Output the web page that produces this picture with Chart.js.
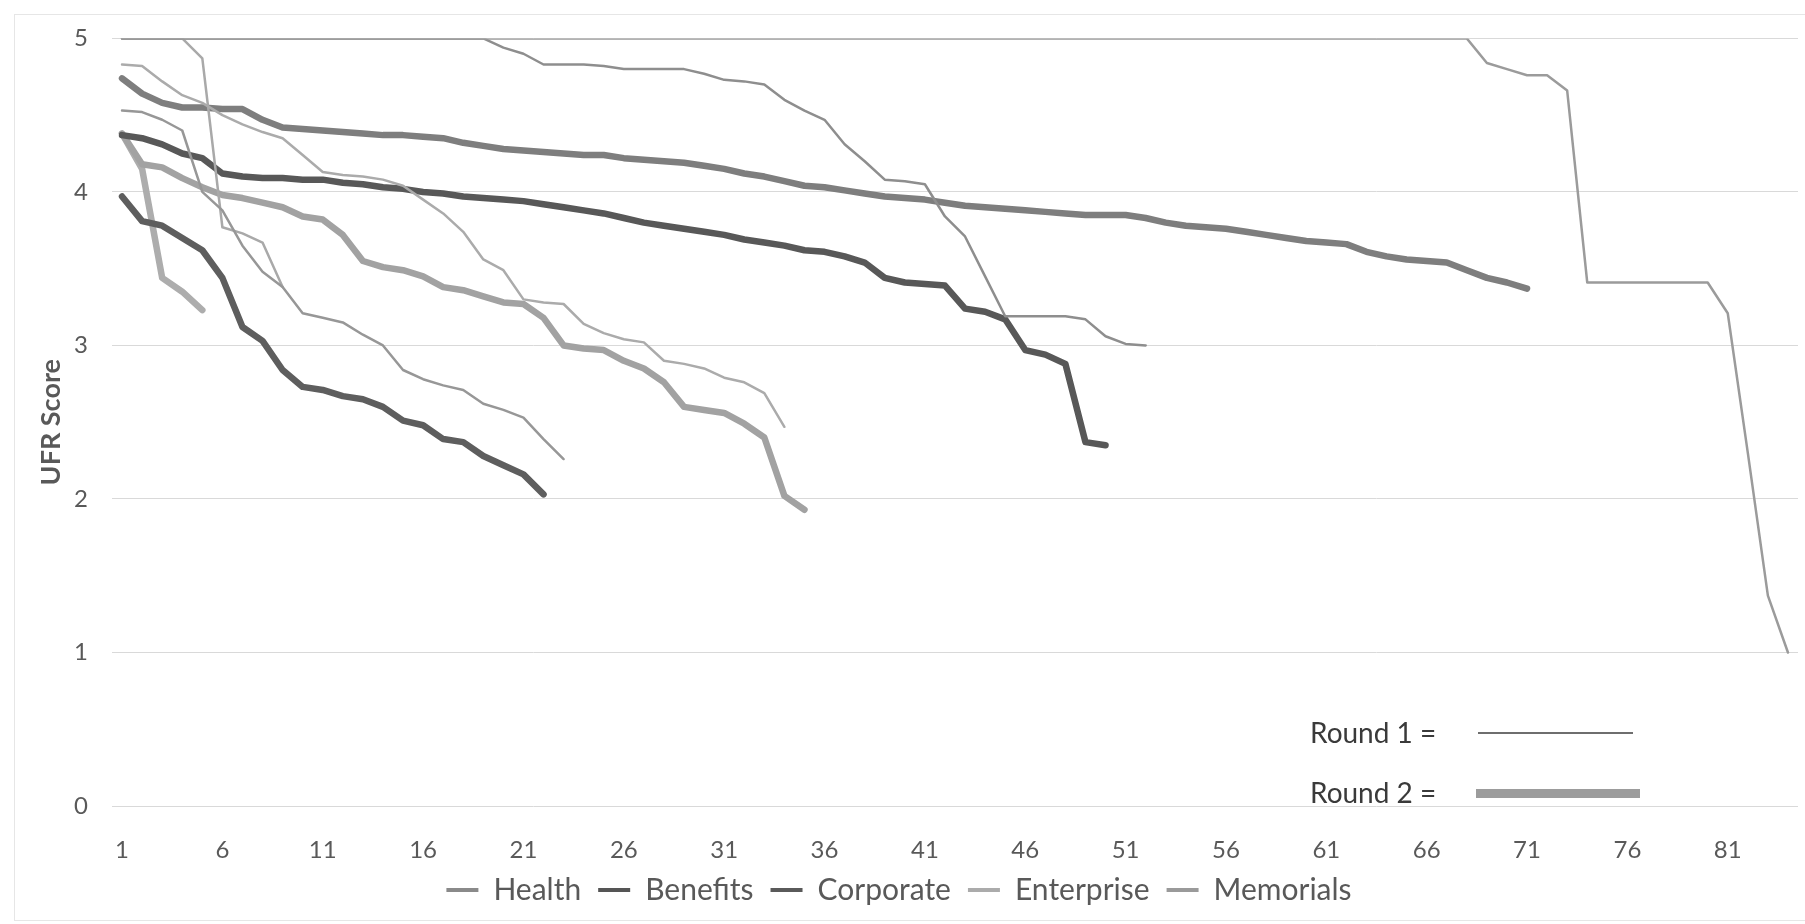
<!DOCTYPE html>
<html>
<head>
  <title>UFR Score by Round</title>
  <script src="https://cdn.jsdelivr.net/npm/chart.js@4.4.0/dist/chart.umd.min.js"></script>
  <style>
    body {
      margin: 0;
      background: #fff;
      font-family: Lato, sans-serif;
    }
    .wrap {
      position: relative;
      width: 1805px;
      height: 924px;
      overflow: hidden;
    }
    canvas {
      display: block;
    }
    .frame {
      position: absolute;
      left: 14px;
      top: 14px;
      width: 1810px;
      height: 907px;
      border: 1px solid #e6e6e6;
      box-sizing: border-box;
      pointer-events: none;
    }
    .note {
      position: absolute;
      font-size: 28px;
      line-height: 1;
      color: #3a3a3a;
      white-space: nowrap;
    }
    .sample {
      position: absolute;
    }
  </style>
</head>
<body>
  <div class="wrap">
    <canvas id="chart" width="1805" height="924"></canvas>
    <div class="frame"></div>
    <div class="note" style="left:1310px; top:718px;">Round 1 =</div>
    <div class="sample" style="left:1478px; top:732px; width:155px; height:2px; background:#6e6e6e;"></div>
    <div class="note" style="left:1310px; top:778px;">Round 2 =</div>
    <div class="sample" style="left:1476px; top:789px; width:164px; height:9px; background:#9c9c9c;"></div>
  </div>

  <script>
    // x categories: respondent rank 1..84, labelled every 5th
    const categories = Array.from({ length: 84 }, (_, i) => String(i + 1));
    const tickLabels = ['1', '6', '11', '16', '21', '26', '31', '36', '41', '46', '51', '56', '61', '66', '71', '76', '81'];
    const seriesNames = ['Health', 'Benefits', 'Corporate', 'Enterprise', 'Memorials'];

    // Round 1 (thin lines)
    const health1 = [
      5, 5, 5, 5, 5, 5, 5, 5, 5, 5,
      5, 5, 5, 5, 5, 5, 5, 5, 5, 5,
      5, 5, 5, 5, 5, 5, 5, 5, 5, 5,
      5, 5, 5, 5, 5, 5, 5, 5, 5, 5,
      5, 5, 5, 5, 5, 5, 5, 5, 5, 5,
      5, 5, 5, 5, 5, 5, 5, 5, 5, 5,
      5, 5, 5, 5, 5, 5, 5, 5, 4.84, 4.8,
      4.76, 4.76, 4.66, 3.41, 3.41, 3.41, 3.41, 3.41, 3.41, 3.41,
      3.21, 2.3, 1.37, 1.0
    ];
    const benefits1 = [
      5, 5, 5, 5, 5, 5, 5, 5, 5, 5,
      5, 5, 5, 5, 5, 5, 5, 5, 5, 4.94,
      4.9, 4.83, 4.83, 4.83, 4.82, 4.8, 4.8, 4.8, 4.8, 4.77,
      4.73, 4.72, 4.7, 4.6, 4.53, 4.47, 4.31, 4.2, 4.08, 4.07,
      4.05, 3.84, 3.71, 3.45, 3.19, 3.19, 3.19, 3.19, 3.17, 3.06,
      3.01, 3.0
    ];
    const corporate1 = [
      4.53, 4.52, 4.47, 4.4, 4.0, 3.88, 3.65, 3.48, 3.38, 3.21,
      3.18, 3.15, 3.07, 3.0, 2.84, 2.78, 2.74, 2.71, 2.62, 2.58,
      2.53, 2.39, 2.26
    ];
    const enterprise1 = [
      4.83, 4.82, 4.72, 4.63, 4.58, 4.5, 4.44, 4.39, 4.35, 4.24,
      4.13, 4.11, 4.1, 4.08, 4.04, 3.95, 3.86, 3.74, 3.56, 3.49,
      3.3, 3.28, 3.27, 3.14, 3.08, 3.04, 3.02, 2.9, 2.88, 2.85,
      2.79, 2.76, 2.69, 2.47
    ];
    const memorials1 = [5, 5, 5, 5, 4.87, 3.77, 3.73, 3.67, 3.38];

    // Round 2 (thick lines)
    const health2 = [
      4.74, 4.64, 4.58, 4.55, 4.55, 4.54, 4.54, 4.47, 4.42, 4.41,
      4.4, 4.39, 4.38, 4.37, 4.37, 4.36, 4.35, 4.32, 4.3, 4.28,
      4.27, 4.26, 4.25, 4.24, 4.24, 4.22, 4.21, 4.2, 4.19, 4.17,
      4.15, 4.12, 4.1, 4.07, 4.04, 4.03, 4.01, 3.99, 3.97, 3.96,
      3.95, 3.93, 3.91, 3.9, 3.89, 3.88, 3.87, 3.86, 3.85, 3.85,
      3.85, 3.83, 3.8, 3.78, 3.77, 3.76, 3.74, 3.72, 3.7, 3.68,
      3.67, 3.66, 3.61, 3.58, 3.56, 3.55, 3.54, 3.49, 3.44, 3.41,
      3.37
    ];
    const benefits2 = [
      4.37, 4.35, 4.31, 4.25, 4.22, 4.12, 4.1, 4.09, 4.09, 4.08,
      4.08, 4.06, 4.05, 4.03, 4.02, 4.0, 3.99, 3.97, 3.96, 3.95,
      3.94, 3.92, 3.9, 3.88, 3.86, 3.83, 3.8, 3.78, 3.76, 3.74,
      3.72, 3.69, 3.67, 3.65, 3.62, 3.61, 3.58, 3.54, 3.44, 3.41,
      3.4, 3.39, 3.24, 3.22, 3.17, 2.97, 2.94, 2.88, 2.37, 2.35
    ];
    const corporate2 = [
      3.97, 3.81, 3.78, 3.7, 3.62, 3.44, 3.12, 3.03, 2.84, 2.73,
      2.71, 2.67, 2.65, 2.6, 2.51, 2.48, 2.39, 2.37, 2.28, 2.22,
      2.16, 2.03
    ];
    const enterprise2 = [
      4.38, 4.18, 4.16, 4.09, 4.03, 3.98, 3.96, 3.93, 3.9, 3.84,
      3.82, 3.72, 3.55, 3.51, 3.49, 3.45, 3.38, 3.36, 3.32, 3.28,
      3.27, 3.18, 3.0, 2.98, 2.97, 2.9, 2.85, 2.76, 2.6, 2.58,
      2.56, 2.49, 2.4, 2.02, 1.93
    ];
    const memorials2 = [4.38, 4.15, 3.44, 3.35, 3.23];

    const round1 = [health1, benefits1, corporate1, enterprise1, memorials1];
    const round2 = [health2, benefits2, corporate2, enterprise2, memorials2];

    const round1Colors = ['#9b9b9b', '#8e8e8e', '#979797', '#ababab', '#a9a9a9'];
    const round2Colors = ['#7e7e7e', '#585858', '#5e5e5e', '#a2a2a2', '#adadad'];
    const legendColors = ['#8a8a8a', '#555555', '#5a5a5a', '#ababab', '#9a9a9a'];

    const datasets = [];
    seriesNames.forEach((name, i) => {
      datasets.push({
        label: name,
        data: round1[i],
        borderColor: round1Colors[i],
        backgroundColor: round1Colors[i],
        borderWidth: 2.5
      });
    });
    seriesNames.forEach((name, i) => {
      datasets.push({
        label: name + ' (Round 2)',
        data: round2[i],
        borderColor: round2Colors[i],
        backgroundColor: round2Colors[i],
        borderWidth: 6.5
      });
    });

    const tickColor = '#595959';

    new Chart(document.getElementById('chart'), {
      type: 'line',
      data: {
        labels: categories,
        datasets: datasets
      },
      options: {
        responsive: false,
        animation: false,
        devicePixelRatio: 1,
        layout: {
          padding: { top: 35, right: 7, bottom: 9, left: 0 }
        },
        elements: {
          point: { radius: 0, hoverRadius: 0 },
          line: { tension: 0, borderJoinStyle: 'round', borderCapStyle: 'round', fill: false }
        },
        scales: {
          x: {
            offset: true,
            grid: { display: false },
            border: { display: false },
            ticks: {
              autoSkip: false,
              maxRotation: 0,
              padding: 22,
              color: tickColor,
              font: { family: 'Lato', size: 24 },
              callback: function (value) {
                const lab = this.getLabelForValue(value);
                return tickLabels.includes(lab) ? lab : null;
              }
            },
            // keep the tick row inside the axis box (labels are clipped to it)
            afterFit: (scale) => { scale.height = 52; }
          },
          y: {
            min: 0,
            max: 5,
            border: { display: false },
            grid: { color: '#d9d9d9', lineWidth: 1, drawTicks: false },
            ticks: {
              stepSize: 1,
              padding: 24,
              color: tickColor,
              font: { family: 'Lato', size: 24 }
            },
            title: {
              display: true,
              text: 'UFR Score',
              color: tickColor,
              font: { family: 'Lato', size: 27, weight: 'bold' },
              padding: { top: 35, bottom: 0 }
            },
            afterFit: (scale) => { scale.width = 112; }
          }
        },
        plugins: {
          tooltip: { enabled: false },
          legend: {
            position: 'bottom',
            labels: {
              usePointStyle: true,
              pointStyle: 'line',
              pointStyleWidth: 32,
              padding: 17,
              color: tickColor,
              font: { family: 'Lato', size: 30 },
              generateLabels: (chart) => {
                const items = Chart.defaults.plugins.legend.labels.generateLabels(chart);
                return items
                  .filter((item) => item.datasetIndex < seriesNames.length)
                  .map((item) => Object.assign(item, {
                    lineWidth: 4,
                    strokeStyle: legendColors[item.datasetIndex]
                  }));
              }
            }
          }
        }
      }
    });
  </script>
</body>
</html>
